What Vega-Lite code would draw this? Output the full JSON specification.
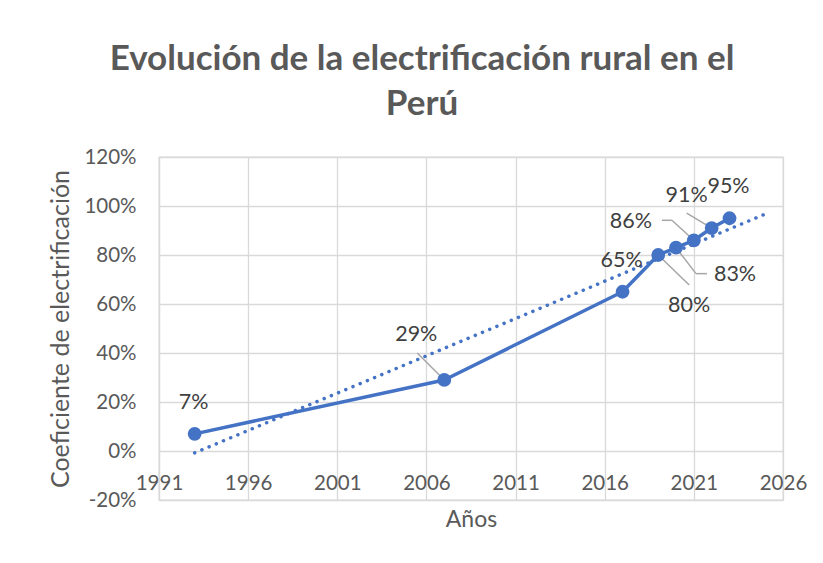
{
  "$schema": "https://vega.github.io/schema/vega-lite/v6.json",
  "autosize": {"type": "none"},
  "width": 624,
  "height": 343,
  "padding": {"left": 159, "top": 157, "right": 40, "bottom": 63},
  "background": "white",
  "config": {
    "font": "Lato",
    "view": {"stroke": "#D9D9D9", "strokeWidth": 1.3},
    "axis": {
      "labelFont": "Lato",
      "titleFont": "Lato",
      "labelColor": "#595959",
      "titleColor": "#595959",
      "labelFontSize": 20.5,
      "titleFontSize": 23,
      "titleFontWeight": "normal",
      "gridColor": "#D9D9D9",
      "gridWidth": 1.3,
      "domainColor": "#D9D9D9",
      "domainWidth": 1.3,
      "ticks": false
    }
  },
  "title": {
    "text": ["Evolución de la electrificación rural en el", "Perú"],
    "font": "Lato",
    "fontSize": 35,
    "fontWeight": "bold",
    "color": "#595959",
    "anchor": "middle",
    "dx": -49,
    "lineHeight": 45,
    "offset": 25
  },
  "data": {
    "values": [
      {"year": 1993, "value": 0.07},
      {"year": 2007, "value": 0.29},
      {"year": 2017, "value": 0.65},
      {"year": 2019, "value": 0.80},
      {"year": 2020, "value": 0.83},
      {"year": 2021, "value": 0.86},
      {"year": 2022, "value": 0.91},
      {"year": 2023, "value": 0.95}
    ]
  },
  "encoding": {
    "x": {
      "field": "year",
      "type": "quantitative",
      "scale": {"domain": [1991, 2026], "nice": false, "zero": false},
      "axis": {
        "values": [1991, 1996, 2001, 2006, 2011, 2016, 2021, 2026],
        "format": "d",
        "title": "Años",
        "offset": -49,
        "labelPadding": 22,
        "labelFlush": false,
        "titlePadding": 15,
        "domain": false,
        "grid": true
      }
    },
    "y": {
      "field": "value",
      "type": "quantitative",
      "scale": {"domain": [-0.2, 1.2], "nice": false, "zero": false},
      "axis": {
        "values": [-0.2, 0, 0.2, 0.4, 0.6, 0.8, 1.0, 1.2],
        "labelExpr": "round(datum.value*100) + '%'",
        "title": "Coeficiente de electrificación",
        "titleFontSize": 25,
        "labelPadding": 23,
        "titlePadding": 10,
        "domain": true,
        "grid": true
      }
    }
  },
  "layer": [
    {
      "transform": [{"regression": "value", "on": "year", "extent": [1993, 2025]}],
      "mark": {"type": "line", "color": "#4472C4", "strokeWidth": 3.5, "strokeCap": "round", "strokeDash": [0.1, 7.7]}
    },
    {
      "mark": {"type": "line", "color": "#4472C4", "strokeWidth": 3.5, "strokeJoin": "round"}
    },
    {
      "transform": [{"filter": "datum.year == 2007"}],
      "mark": {"type": "rule", "color": "#A6A6A6", "strokeWidth": 1.5, "x2Offset": -27, "y2Offset": -27},
      "encoding": {"x2": {"field": "year"}, "y2": {"field": "value"}}
    },
    {
      "transform": [{"filter": "datum.year == 2019"}],
      "mark": {"type": "rule", "color": "#A6A6A6", "strokeWidth": 1.5, "x2Offset": 31, "y2Offset": 30},
      "encoding": {"x2": {"field": "year"}, "y2": {"field": "value"}}
    },
    {
      "transform": [{"filter": "datum.year == 2020"}],
      "mark": {"type": "rule", "color": "#A6A6A6", "strokeWidth": 1.5, "x2Offset": 20, "y2Offset": 26},
      "encoding": {"x2": {"field": "year"}, "y2": {"field": "value"}}
    },
    {
      "transform": [{"filter": "datum.year == 2020"}],
      "mark": {"type": "rule", "color": "#A6A6A6", "strokeWidth": 1.5, "xOffset": 20, "yOffset": 26, "x2Offset": 31, "y2Offset": 26},
      "encoding": {"x2": {"field": "year"}, "y2": {"field": "value"}}
    },
    {
      "transform": [{"filter": "datum.year == 2021"}],
      "mark": {"type": "rule", "color": "#A6A6A6", "strokeWidth": 1.5, "x2Offset": -22, "y2Offset": -20},
      "encoding": {"x2": {"field": "year"}, "y2": {"field": "value"}}
    },
    {
      "transform": [{"filter": "datum.year == 2021"}],
      "mark": {"type": "rule", "color": "#A6A6A6", "strokeWidth": 1.5, "xOffset": -22, "yOffset": -20, "x2Offset": -32, "y2Offset": -20},
      "encoding": {"x2": {"field": "year"}, "y2": {"field": "value"}}
    },
    {
      "transform": [{"filter": "datum.year == 2022"}],
      "mark": {"type": "rule", "color": "#A6A6A6", "strokeWidth": 1.5, "x2Offset": -25, "y2Offset": -15},
      "encoding": {"x2": {"field": "year"}, "y2": {"field": "value"}}
    },
    {
      "mark": {"type": "point", "filled": true, "opacity": 1, "color": "#4472C4", "size": 190}
    },
    {
      "transform": [{"filter": "datum.year == 1993 || datum.year == 2017 || datum.year == 2023"}],
      "mark": {"type": "text", "fontSize": 21.5, "color": "#404040", "align": "center", "baseline": "middle", "dx": -1, "dy": -31},
      "encoding": {"text": {"field": "value", "type": "quantitative", "format": ".0%"}}
    },
    {
      "transform": [{"filter": "datum.year == 2007"}],
      "mark": {"type": "text", "fontSize": 21.5, "color": "#404040", "align": "center", "baseline": "middle", "dx": -28, "dy": -45},
      "encoding": {"text": {"field": "value", "type": "quantitative", "format": ".0%"}}
    },
    {
      "transform": [{"filter": "datum.year == 2019"}],
      "mark": {"type": "text", "fontSize": 21.5, "color": "#404040", "align": "center", "baseline": "middle", "dx": 31, "dy": 51},
      "encoding": {"text": {"field": "value", "type": "quantitative", "format": ".0%"}}
    },
    {
      "transform": [{"filter": "datum.year == 2020"}],
      "mark": {"type": "text", "fontSize": 21.5, "color": "#404040", "align": "center", "baseline": "middle", "dx": 59, "dy": 27},
      "encoding": {"text": {"field": "value", "type": "quantitative", "format": ".0%"}}
    },
    {
      "transform": [{"filter": "datum.year == 2021"}],
      "mark": {"type": "text", "fontSize": 21.5, "color": "#404040", "align": "center", "baseline": "middle", "dx": -63, "dy": -18},
      "encoding": {"text": {"field": "value", "type": "quantitative", "format": ".0%"}}
    },
    {
      "transform": [{"filter": "datum.year == 2022"}],
      "mark": {"type": "text", "fontSize": 21.5, "color": "#404040", "align": "center", "baseline": "middle", "dx": -25, "dy": -32},
      "encoding": {"text": {"field": "value", "type": "quantitative", "format": ".0%"}}
    }
  ]
}
